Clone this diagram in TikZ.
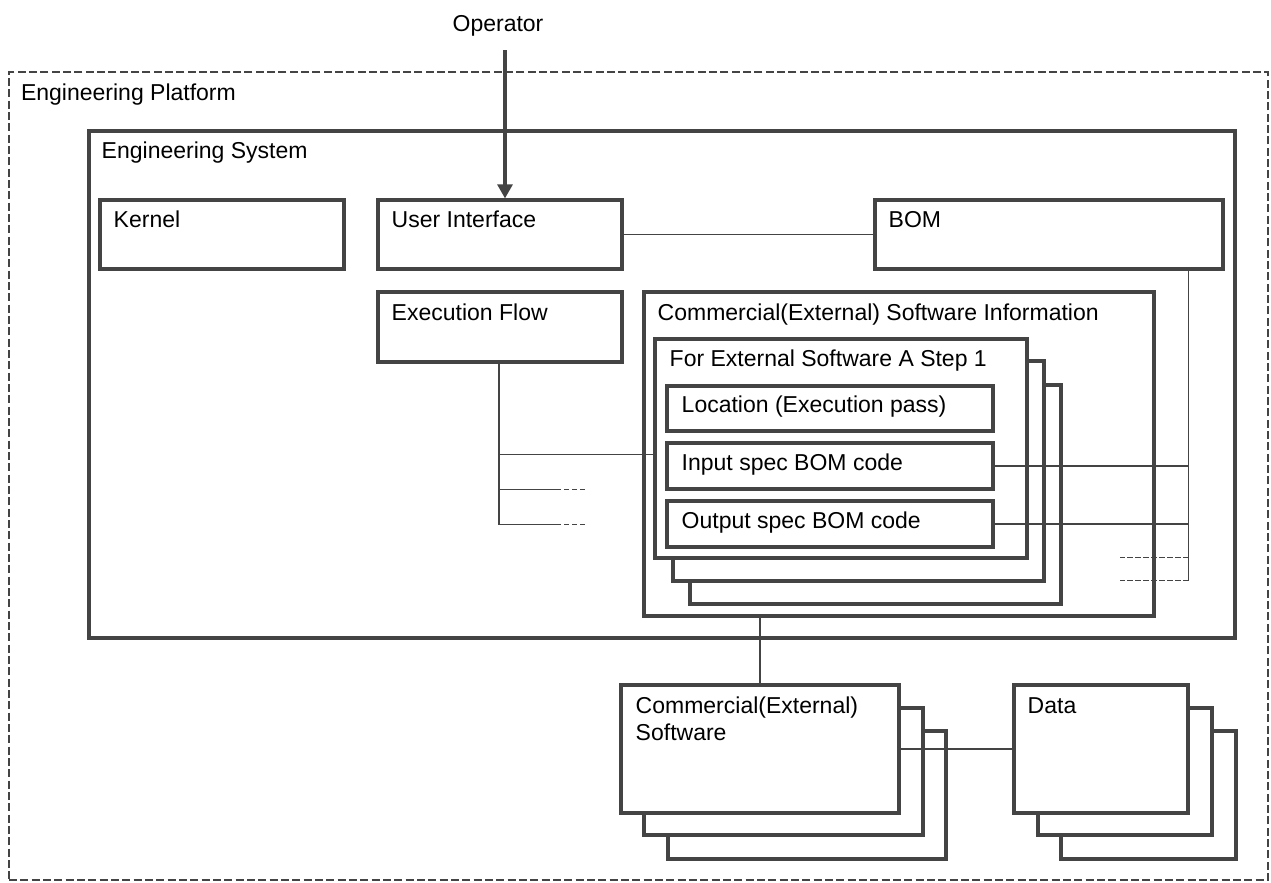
\documentclass[tikz,border=0pt]{standalone}
\usepackage{fontspec}
\setmainfont{Liberation Sans}
\usetikzlibrary{fit,arrows.meta,calc}
\definecolor{ink}{HTML}{444444}
\begin{document}
\begin{tikzpicture}[x=0.75pt,y=-0.75pt,
  box/.style={draw=ink, line width=2.3pt, fill=white, inner sep=0pt, rectangle},
  lbl/.style={anchor=base west, inner sep=0pt, text=black, align=left,
              font=\fontsize{17.25pt}{20.25pt}\selectfont},
  conn/.style={draw=ink, line width=1.4pt},
  stub/.style={conn, dash pattern=on 4pt off 2pt},
  frame/.style={draw=ink, line width=1.8pt, dash pattern=on 6pt off 2.5pt, inner sep=0pt, rectangle},
]
\useasboundingbox (0,0) rectangle (1271,882);

% platform and system containers
\node[frame, fit={(9,72) (1268,880)}] (platform) {};
\node[lbl] (platform-t) at ([shift={(13,30)}]platform.north west) {Engineering Platform};
\node[box, fit={(89,131) (1235,638)}] (system) {};
\node[lbl] (system-t) at ([shift={(14,29)}]system.north west) {Engineering System};

% top row
\node[box, fit={(100,200) (344,269)}] (kernel) {};
\node[lbl] (kernel-t) at ([shift={(15,29)}]kernel.north west) {Kernel};
\node[box, fit={(378,200) (622,269)}] (ui) {};
\node[lbl] (ui-t) at ([shift={(15,29)}]ui.north west) {User Interface};
\node[box, fit={(875,200) (1223,269)}] (bom) {};
\node[lbl] (bom-t) at ([shift={(15,29)}]bom.north west) {BOM};

% execution flow
\node[box, fit={(378,292) (622,362)}] (flow) {};
\node[lbl] (flow-t) at ([shift={(15,30)}]flow.north west) {Execution Flow};

% software information with stacked step records
\node[box, fit={(644,292) (1154,616)}] (info) {};
\node[lbl] (info-t) at ([shift={(15,30)}]info.north west) {Commercial(External) Software Information};
\node[box, fit={(690,385) (1061,604)}] (step3) {};
\node[box, fit={(673,361) (1044,581)}] (step2) {};
\node[box, fit={(655,339) (1027,558)}] (step1) {};
\node[lbl] (step1-t) at ([shift={(16,29)}]step1.north west) {For External Software A Step 1};
\node[box, fit={(667,386) (993,431)}] (loc) {};
\node[lbl] (loc-t) at ([shift={(16,28)}]loc.north west) {Location (Execution pass)};
\node[box, fit={(667,443) (993,489)}] (inspec) {};
\node[lbl] (inspec-t) at ([shift={(16,29)}]inspec.north west) {Input spec BOM code};
\node[box, fit={(667,501) (993,547)}] (outspec) {};
\node[lbl] (outspec-t) at ([shift={(16,29)}]outspec.north west) {Output spec BOM code};

% external software stack
\node[box, fit={(668,731) (946,859)}] (sw3) {};
\node[box, fit={(644,708) (923,835)}] (sw2) {};
\node[box, fit={(621,685) (899,813)}] (sw) {};
\node[lbl] (sw-t) at ([shift={(16,57)}]sw.north west) {Commercial(External)\\Software};

% data stack
\node[box, fit={(1061,731) (1236,859)}] (data3) {};
\node[box, fit={(1038,708) (1212,835)}] (data2) {};
\node[box, fit={(1014,685) (1188,813)}] (data) {};
\node[lbl] (data-t) at ([shift={(15,30)}]data.north west) {Data};

% operator input
\node[lbl, anchor=base] (op) at (498,31) {Operator};
\coordinate (opfoot) at (505,50);
\draw[ink, line width=3.5pt, -{Triangle[length=10.5pt,width=11pt]}] (opfoot) -- (opfoot |- ui.north);

% user interface to BOM
\draw[conn] (ui.east) -- (bom.west);

% BOM bus to the spec codes
\coordinate (bomfoot) at ([xshift=-36*0.75pt]bom.south east);
\coordinate (busend) at ($(bomfoot)+(0,310)$);
\draw[conn] (bomfoot) -- (busend);
\draw[conn] (inspec.east) -- (inspec.east -| bomfoot);
\draw[conn] (outspec.east) -- (outspec.east -| bomfoot);
\coordinate (bstub1) at ($(busend)+(0,-23)$);
\draw[stub] (bstub1) -- ++(-69,0);
\draw[stub] (busend) -- ++(-69,0);

% execution flow bus
\coordinate (flowfoot) at ([xshift=-0.75pt]flow.south);
\coordinate (flowend) at ($(flowfoot)+(0,161)$);
\draw[conn] (flowfoot) -- (flowend);
\coordinate (ftap) at ($(flowfoot)+(0,91)$);
\draw[conn] (ftap) -- (ftap -| step1.west);
\coordinate (fstub1) at ($(flowfoot)+(0,126)$);
\draw[conn] (fstub1) -- ++(57,0) coordinate (fstub1e);
\draw[stub] (fstub1e) -- ++(30,0);
\draw[conn] (flowend) -- ++(57,0) coordinate (fstub2e);
\draw[stub] (fstub2e) -- ++(30,0);

% software information to external software, and on to data
\draw[conn] (sw.north |- info.south) -- (sw.north);
\draw[conn] (sw.east) -- (data.west);
\end{tikzpicture}
\end{document}
